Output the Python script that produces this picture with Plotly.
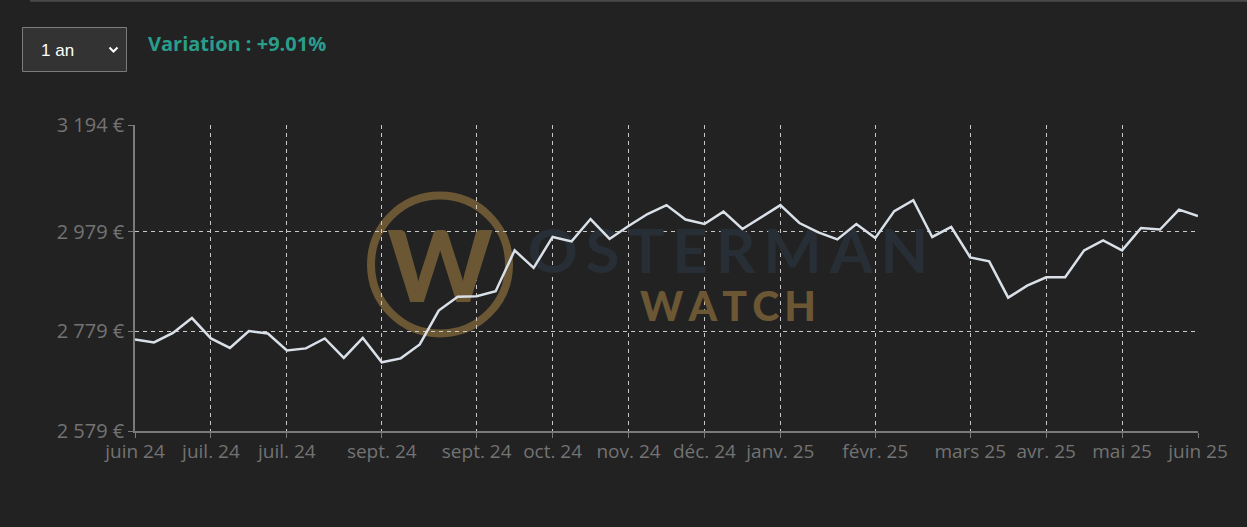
import plotly.graph_objects as go

# ---- data ----
prices = [2763, 2757, 2776, 2806, 2765, 2746, 2780, 2775, 2741, 2745,
          2765, 2726, 2766, 2717, 2725, 2753, 2821, 2849, 2850, 2860,
          2942, 2907, 2969, 2960, 3005, 2965, 2991, 3015, 3033, 3004,
          2995, 3020, 2985, 3009, 3033, 2997, 2978, 2964, 2995, 2967,
          3021, 3043, 2969, 2989, 2928, 2920, 2847, 2871, 2888, 2888,
          2942, 2962, 2942, 2987, 2984, 3024, 3011]
x_tick_idx = [0, 4, 8, 13, 18, 22, 26, 30, 34, 39, 44, 48, 52, 56]
x_tick_labels = ["juin 24", "juil. 24", "juil. 24", "sept. 24", "sept. 24", "oct. 24",
                 "nov. 24", "déc. 24", "janv. 25", "févr. 25", "mars 25", "avr. 25",
                 "mai 25", "juin 25"]
y_tick_vals = [2579, 2779, 2979, 3194]
y_tick_labels = ["2 579 €", "2 779 €", "2 979 €", "3 194 €"]
variation_text = "Variation : +9.01%"
period_text = "1 an"

W, H = 1247, 527
L, R, T, B = 135, 49, 125, 96
PW, PH = W - L - R, H - T - B
XMAX = len(prices) - 1
YMIN, YMAX = 2579, 3194


def px(x):
    return (x - L) / PW


def py(y):
    return (H - B - y) / PH


def dx(x):
    return (x - L) / PW * XMAX


def dy(y):
    return YMAX - (y - T) / PH * (YMAX - YMIN)


BG = "#222222"
GOLD = "#6b5734"
SLATE = "#282e35"
GRID = "#c9c9c9"
AXIS = "#7a7a7a"
LABEL = "#737373"

fig = go.Figure()

# watermark text (below the line)
fig.add_trace(go.Scatter(x=[dx(440)], y=[dy(277)], mode="text", text=["W"],
                         textfont=dict(family="Lato", size=100, color=GOLD, weight=900),
                         hoverinfo="skip", showlegend=False))
fig.add_trace(go.Scatter(x=[dx(728)], y=[dy(257)], mode="text",
                         text=["\u2009".join("OSTERMAN")],
                         textfont=dict(family="Lato", size=62, color=SLATE, weight=700),
                         hoverinfo="skip", showlegend=False))
fig.add_trace(go.Scatter(x=[dx(728)], y=[dy(311)], mode="text",
                         text=["\u2009".join("WATCH")],
                         textfont=dict(family="Lato", size=41, color=GOLD, weight=900),
                         hoverinfo="skip", showlegend=False))

fig.add_trace(go.Scatter(x=list(range(len(prices))), y=prices, mode="lines",
                         line=dict(color="#d9e0e8", width=2.5),
                         hoverinfo="skip", showlegend=False))

shapes = [
    # watermark ring
    dict(type="circle", xref="paper", yref="paper", layer="below",
         x0=px(371), x1=px(509), y0=py(333.5), y1=py(195.5),
         line=dict(color=GOLD, width=8)),
    # top border line
    dict(type="line", xref="paper", yref="paper",
         x0=px(30), x1=px(W), y0=py(0.8), y1=py(0.8),
         line=dict(color="#4a4a4a", width=2)),
    # dropdown box
    dict(type="rect", xref="paper", yref="paper",
         x0=px(22.5), x1=px(126.5), y0=py(71.5), y1=py(27.5),
         fillcolor="#333333", line=dict(color="#7c7c7c", width=1)),
    # chevron
    dict(type="path", xref="paper", yref="paper",
         path=f"M {px(109.5)},{py(47.5)} L {px(113.5)},{py(51.5)} L {px(117.5)},{py(47.5)}",
         line=dict(color="#ffffff", width=2)),
]

annotations = [
    dict(xref="paper", yref="paper", x=px(146), y=py(43), xanchor="left", yanchor="middle",
         text=f"<b>{variation_text}</b>", showarrow=False,
         font=dict(family="Open Sans", size=20, color="#2a9d8a")),
    dict(xref="paper", yref="paper", x=px(39), y=py(50), xanchor="left", yanchor="middle",
         text=period_text, showarrow=False,
         font=dict(family="Liberation Sans", size=17, color="#ffffff")),
]

fig.update_layout(
    width=W, height=H,
    margin=dict(l=L, r=R, t=T, b=B),
    paper_bgcolor=BG, plot_bgcolor=BG,
    shapes=shapes, annotations=annotations,
    hovermode=False,
    xaxis=dict(range=[0, XMAX], tickmode="array", tickvals=x_tick_idx, ticktext=x_tick_labels,
               showgrid=True, gridcolor=GRID, griddash="4px,4px", gridwidth=1,
               showline=True, linecolor=AXIS, linewidth=1.5,
               ticks="outside", ticklen=5, tickcolor=AXIS, ticklabelstandoff=-3,
               tickfont=dict(family="Open Sans", size=19, color=LABEL),
               zeroline=False, fixedrange=True),
    yaxis=dict(range=[YMIN, YMAX], tickmode="array", tickvals=y_tick_vals, ticktext=y_tick_labels,
               showgrid=True, gridcolor=GRID, griddash="4px,4px", gridwidth=1,
               showline=True, linecolor=AXIS, linewidth=1.5,
               ticks="outside", ticklen=5, tickcolor=AXIS,
               tickfont=dict(family="Open Sans", size=20, color=LABEL),
               zeroline=False, fixedrange=True),
)

fig.write_html("out.html", config={"displayModeBar": False},
               post_script="document.body.style.margin='0';document.body.style.background='#222222';")
